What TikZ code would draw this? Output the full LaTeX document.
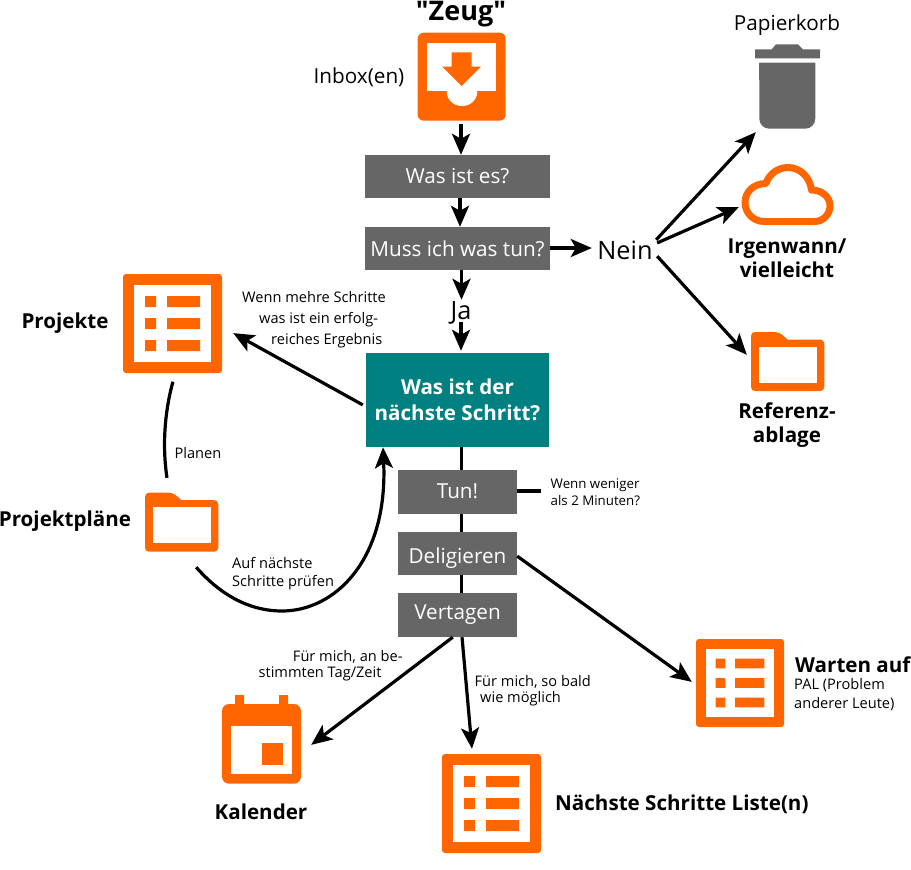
\documentclass[tikz,border=0pt]{standalone}
\usepackage{fontspec}
\setmainfont{Open Sans}
\newfontfamily\rawopen{Open Sans}
\usetikzlibrary{arrows.meta}
\definecolor{org}{HTML}{FF6600}
\definecolor{gry}{HTML}{666666}
\definecolor{teal2}{HTML}{008080}
\newcommand\fs[1]{\fontsize{#1}{#1}\selectfont}
% list icon: name, left, top, size
\newcommand\listicon[4]{%
 \begin{scope}[shift={(#2,#3)},x=#4pt/99,y=-#4pt/99]
  \fill[org,rounded corners=3pt] (0,0) rectangle (99,99);
  \fill[white] (11,11) rectangle (88,88);
  \fill[org] (22,22) rectangle (33,33) (44,22) rectangle (77,33)
             (22,44) rectangle (33,55) (44,44) rectangle (77,55)
             (22,66) rectangle (33,77) (44,66) rectangle (77,77);
 \end{scope}}
\newcommand\foldericon[2]{%
 \begin{scope}[shift={(#1,#2)}]
  \fill[org,rounded corners=4pt] (0,59) -- (0,0) -- (28,0) [sharp corners] -- (36.5,7.5) [rounded corners=4pt] -- (73.3,7.5) -- (73.3,59) -- cycle;
  \fill[white] (7.7,14.6) rectangle (66,50.6);
 \end{scope}}
\tikzset{
 x=1pt,y=-1pt,
 graybox/.style={fill=gry,text=white,inner sep=0pt,font=\fs{20.7}},
 lab/.style={font=\fs{14.6},align=left,inner sep=0pt,text=black},
 ttl/.style={font=\bfseries\fs{20.6},align=center,inner sep=0pt,text=black},
 link/.style={line width=3.2pt,black},
 arr/.style={link,-{Stealth[length=21pt,width=18pt,inset=5pt]}},
 anch/.style={inner sep=0pt,minimum size=0pt},
}
\begin{document}
\begin{tikzpicture}
\useasboundingbox (0,0) rectangle (911,870);
% trunk
\coordinate (trunkTop) at (461,447);
\coordinate (trunkBot) at (461,593);
\draw[link,line width=3pt] (trunkTop) -- (trunkBot);
% gray boxes
\node[graybox,minimum width=185pt,minimum height=43pt] (was) at (457.5,176.5) {Was ist es?};
\node[graybox,minimum width=185pt,minimum height=43pt] (muss) at (457.5,248.5) {Muss ich was tun?};
\node[fill=teal2,text=white,font=\bfseries\fs{20.6},align=center,minimum width=183pt,minimum height=94pt,inner sep=0pt] (next) at (457.5,400) {Was ist der\\[5.4pt]nächste Schritt?};
\node[graybox,minimum width=119pt,minimum height=44pt] (tun) at (457.5,492) {\raisebox{-6.5pt}[0pt][0pt]{Tun!}};
\node[graybox,minimum width=119pt,minimum height=43pt] (del) at (457.5,553.5) {\raisebox{-9.5pt}[0pt][0pt]{Deligieren}};
\node[graybox,minimum width=119pt,minimum height=44pt] (ver) at (457.5,615) {Vertagen};
% inbox icon
\fill[org,rounded corners=6pt] (417.7,32.7) rectangle (505.7,120.7);
\fill[white] (426.7,42.7) rectangle (496,91);
\fill[white] (446.7,91) .. controls (446.7,100) and (453.5,106) .. (462,106) .. controls (470.5,106) and (477.3,100) .. (477.3,91) -- cycle;
\fill[org] (451.7,52.3) -- (471.7,52.3) -- (471.7,66.7) -- (481,66.7) -- (461.7,86) -- (442.3,66.7) -- (451.7,66.7) -- cycle;
\node[anch] (inbox) at (461,124) {};
\node[anch] (wasTop) at (461,155) {};
\node[anch] (wasBot) at (460,198) {};
\node[anch] (mussTop) at (460,227) {};
\node[anch] (mussBot) at (461.5,270) {};
\node[anch] (mussR) at (550,248) {};
\node[anch] (neinL) at (592,248) {};
\node[anch] (jaTop) at (461.5,300) {};
\node[anch] (jaBot) at (461,322) {};
\node[anch] (nextTop) at (461,351) {};
\node[anch] (nextLeft) at (363,405) {};
\node[anch] (nextBot) at (383,447) {};
% trash
\fill[gry] (755,49.3) -- (771.7,49.3) -- (776,44.3) -- (798,44.3) -- (803,49.3) -- (820,49.3) -- (820,58.3) -- (755,58.3) -- cycle;
\fill[gry,rounded corners=10pt] (759.3,62.7) [sharp corners] -- (815.3,62.7) [rounded corners=10pt] -- (815.3,128.7) -- (759.3,128.7) [sharp corners] -- cycle;
\fill[gry] (759.3,62.7) rectangle (815.3,80);
\node[anch] (trash) at (756,132) {};
% cloud
\draw[org,line width=7pt,line join=round] (764,221.5) .. controls (753.5,221.5) and (745,213) .. (745,202.5) .. controls (745,192) and (753.5,183.5) .. (766,183.5) .. controls (769,174) and (778,167.5) .. (788,167.5) .. controls (800,167.5) and (810,177) .. (811.5,190) .. controls (822,190) and (830,197) .. (830,205.7) .. controls (830,214.5) and (823,221.5) .. (814.5,221.5) -- cycle;
\node[anch] (cloud) at (739,207) {};
% folders
\foldericon{751}{332}
\node[anch] (ref) at (747,355) {};
\foldericon{145}{492.7}
% lists
\listicon{Projekte}{123}{274}{99}
\listicon{Warten}{696}{639}{88}
\listicon{Next}{442}{754}{99}
% calendar
\fill[org] (235,695) rectangle (244,710) (279,695) rectangle (288,710);
\fill[org,rounded corners=7pt] (222,704) rectangle (301,783.7);
\fill[white] (230.7,725.7) rectangle (292.3,774.3);
\fill[org] (261.7,743.3) rectangle (283.3,765.3);
% anchors
\node[anch] (projA) at (233,333) {};
\node[anch] (projB) at (173,381.5) {};
\node[anch] (plaeneT) at (167,478) {};
\node[anch] (plaeneB) at (196,567) {};
\node[anch] (warten) at (692,682) {};
\node[anch] (liste) at (472,749) {};
\node[anch] (kal) at (311,745) {};
\node[anch] (tunL) at (517,491) {};
\node[anch] (tunR) at (541,491) {};
\node[anch] (delR) at (517,556) {};
\node[anch] (verA) at (462,637) {};
\node[anch] (verB) at (453,637) {};
\node[anch] (n1) at (656,240) {};
\node[anch] (n2) at (657,243) {};
\node[anch] (n3) at (657,256) {};
% texts
\node[ttl,font=\rawopen\bfseries\fs{27},anchor=base] (zeug) at (461,20.5) {"Zeug"};
\node[lab,font=\fs{20.7}] (inboxT) at (359,77) {Inbox(en)};
\node[lab,font=\fs{20.7}] (papier) at (787,25.5) {Papierkorb};
\node[inner sep=0pt,font=\fs{25.3}] (nein) at (625,250) {Nein};
\node[inner sep=0pt,font=\fs{25.3}] (ja) at (461,313) {Ja};
\node[ttl] (irgend) at (787,258.5) {Irgenwann/\\[3.4pt]vielleicht};
\node[ttl] (refT) at (787,425) {Referenz-\\[3pt]ablage};
\node[ttl] (projT) at (65,323.5) {Projekte};
\node[ttl] (plT) at (65,521.5) {Projektpläne};
\node[ttl] (kalT) at (261,812) {Kalender};
\node[ttl,anchor=west] (nextT) at (555,804) {Nächste Schritte Liste(n)};
\node[ttl,anchor=west] (wartT) at (795,665) {Warten auf};
\node[lab,anchor=west] (pal) at (794,695) {PAL (Problem\\[4.4pt]anderer Leute)};
\node[lab,anchor=west] (l1) at (242,320) {Wenn mehre Schritte\\[6.4pt]\hspace*{17pt}was ist ein erfolg-\\[6.4pt]\hspace*{29pt}reiches Ergebnis};
\node[lab] (l2) at (198,453) {Planen};
\node[lab,anchor=west] (l3) at (232,574) {Auf nächste\\[3.4pt]Schritte prüfen};
\node[lab,font=\fs{13.3},anchor=west] (l4) at (550.5,492) {Wenn weniger\\[3.4pt]als 2 Minuten?};
\node[lab,align=right,anchor=east] (l5) at (402.7,666) {Für mich, an be-\\[1.4pt]\mbox{stimmten Tag/Zeit\hspace*{21pt}}};
\node[lab,anchor=west] (l6) at (474.5,690.5) {Für mich, so bald\\[1.1pt]\hspace*{5.5pt}wie möglich};
% connectors
\draw[arr] (inbox) -- (wasTop);
\draw[arr] (wasBot) -- (mussTop);
\draw[arr] (mussR) -- (neinL);
\draw[arr] (mussBot) -- (jaTop);
\draw[arr] (jaBot) -- (nextTop);
\draw[arr] (n1) -- (trash);
\draw[arr] (n2) -- (cloud);
\draw[arr] (n3) -- (ref);
\draw[arr] (nextLeft) -- (projA);
\draw[link] (projB) .. controls (165,410) and (162,445) .. (plaeneT);
\draw[arr] (plaeneB) .. controls (225,600) and (255,611) .. (282,611) .. controls (335,611) and (388,560) .. (nextBot);
\draw[link] (tunL) -- (tunR);
\draw[arr] (delR) -- (warten);
\draw[arr] (verA) -- (liste);
\draw[arr] (verB) -- (kal);
\end{tikzpicture}
\end{document}
